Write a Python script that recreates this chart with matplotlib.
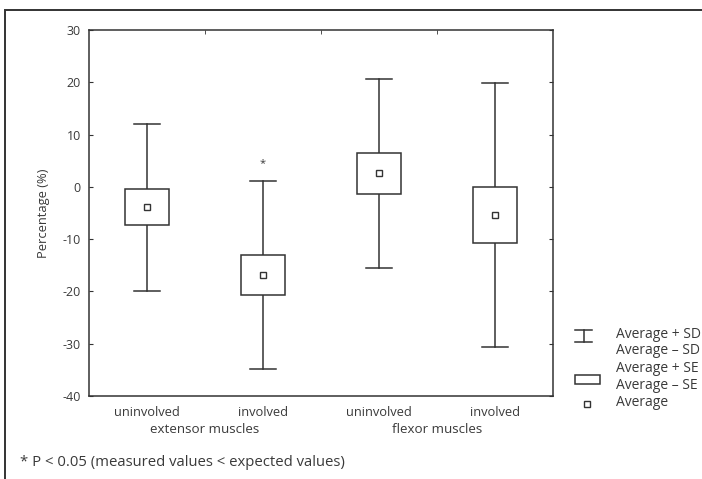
import matplotlib
matplotlib.use("Agg")
import matplotlib.pyplot as plt
from matplotlib.patches import Rectangle
import numpy as np

# data
groups = ["uninvolved", "involved", "uninvolved", "involved"]
muscle_groups = ["extensor muscles", "flexor muscles"]
average = [-3.9, -16.9, 2.6, -5.4]
se = [3.45, 3.85, 3.9, 5.4]
sd = [16.0, 18.0, 18.1, 25.3]
significant = [False, True, False, False]
y_ticks = [30, 20, 10, 0, -10, -20, -30, -40]

plt.rcParams['font.family'] = ['Open Sans', 'DejaVu Sans']
plt.rcParams['font.size'] = 9
plt.rcParams['axes.unicode_minus'] = False
ink = '#333333'
txt = '#3a3a3a'

fig = plt.figure(figsize=(7.02, 4.79), dpi=100)
ax = fig.add_axes([89 / 702, 83 / 479, 464 / 702, 366 / 479])

x = np.arange(1, len(groups) + 1)
box_w = 0.377
cap_w = 0.23

for xi, m, e, d, sig in zip(x, average, se, sd, significant):
    # whisker (average +/- SD)
    ax.plot([xi, xi], [m + e, m + d], color=ink, lw=1.1, zorder=2)
    ax.plot([xi, xi], [m - e, m - d], color=ink, lw=1.1, zorder=2)
    ax.plot([xi - cap_w / 2, xi + cap_w / 2], [m + d, m + d], color=ink, lw=1.1)
    ax.plot([xi - cap_w / 2, xi + cap_w / 2], [m - d, m - d], color=ink, lw=1.1)
    # box (average +/- SE)
    ax.add_patch(Rectangle((xi - box_w / 2, m - e), box_w, 2 * e,
                           facecolor='white', edgecolor=ink, lw=1.1, zorder=3))
    ax.plot(xi, m, marker='s', ms=4.3, mfc='white', mec=ink, mew=1.0, zorder=4)
    if sig:
        ax.text(xi, m + d + 3.4, '*', ha='center', va='center', fontsize=8, color=txt)

ax.set_xlim(0.5, len(groups) + 0.5)
ax.set_ylim(-40, 30)
ax.set_yticks(y_ticks)
ax.set_xticks(x)
ax.set_xticklabels(groups, color=txt, fontsize=9.3)
ax.set_xticks([1.5, 2.5, 3.5], minor=True)
ax.tick_params(axis='x', which='major', length=0, pad=7.5)
ax.tick_params(axis='x', which='minor', direction='in', length=3, top=True,
               bottom=False, color=ink)
ax.tick_params(axis='y', direction='in', length=3, right=True, color=ink,
               labelcolor=txt, pad=6)
for sp in ax.spines.values():
    sp.set_color(ink)
    sp.set_linewidth(1.1)

ax.set_ylabel('Percentage (%)', color=txt, labelpad=9, fontsize=9.3)

# group labels under the category labels
for i, name in enumerate(muscle_groups):
    ax.annotate(name, xy=(1.5 + 2 * i, 0), xycoords=('data', 'axes fraction'),
                xytext=(0, -19.5), textcoords='offset points',
                ha='center', va='top', color=txt, fontsize=9.6)

fig.text(20 / 702, 1 - 463 / 479, '* P < 0.05 (measured values < expected values)',
         ha='left', va='center', color=txt, fontsize=10.7)

# outer frame (top and left edges visible)
fig.patches.append(Rectangle((5 / 702, -0.1), 1.2, 1.1 - 10 / 479, transform=fig.transFigure,
                             fill=False, edgecolor=ink, lw=1.4))

# legend drawn in pixel-like figure coords
lg = fig.add_axes([0, 0, 1, 1], facecolor='none')
lg.set_xlim(0, 702)
lg.set_ylim(479, 0)
lg.axis('off')
lg.plot([575, 592], [330, 330], color=ink, lw=1.1)
lg.plot([575, 592], [342, 342], color=ink, lw=1.1)
lg.plot([583.5, 583.5], [330, 342], color=ink, lw=1.1)
lg.add_patch(Rectangle((575, 374.5), 25, 9.5, fill=False, edgecolor=ink, lw=1.1))
lg.plot(587, 404, marker='s', ms=4.3, mfc='white', mec=ink, mew=1.0)
labels = [("Average + SD", 334), ("Average \u2013 SD", 350.5), ("Average + SE", 369),
          ("Average \u2013 SE", 385.5), ("Average", 403)]
for s, yy in labels:
    lg.text(616, yy, s, ha='left', va='center', color=txt, fontsize=10)

fig.savefig('out.png', dpi=100)
